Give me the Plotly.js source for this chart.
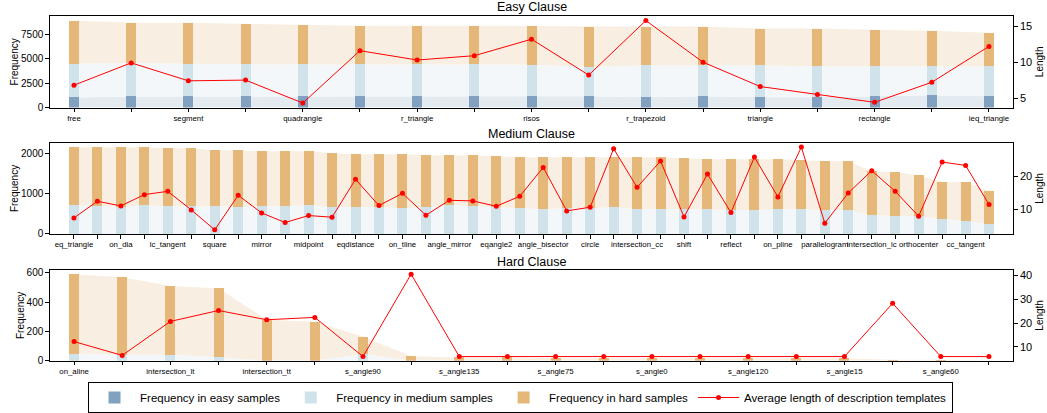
<!DOCTYPE html>
<html><head><meta charset="utf-8">
<script src="https://cdn.plot.ly/plotly-3.0.1.min.js"></script>
<style>html,body{margin:0;padding:0;background:#fff}#chart{width:1047px;height:413px}</style>
</head><body><div id="chart"></div>
<script>
// ---------- Easy Clause ----------
const easyClauseTicks = ["free","","segment","","quadrangle","","r_triangle","","risos","","r_trapezoid","","triangle","","rectangle","","ieq_triangle"];
const easyClauseEasyFreq   = [1030,1130,1130,1130,1130,1130,1130,1190,1150,1150,1050,1150,1050,1050,1150,1250,1150];
const easyClauseMediumFreq = [3440,3410,3340,3270,3270,3270,3270,3210,3230,3000,3250,3150,3250,3150,3050,2950,3050];
const easyClauseHardFreq   = [4420,4120,4190,4160,4050,3950,3950,3950,3970,4120,3970,3970,3770,3870,3760,3660,3450];
const easyClauseLength     = [6.8,9.9,7.4,7.5,4.3,11.6,10.3,10.9,13.2,8.2,15.8,10.0,6.6,5.5,4.4,7.2,12.2];

// ---------- Medium Clause ----------
const mediumClauseTicks = ["eq_triangle","","on_dia","","lc_tangent","","square","","mirror","","midpoint","","eqdistance","","on_tline","","angle_mirror","","eqangle2","","angle_bisector","","circle","","intersection_cc","","shift","","reflect","","on_pline","","parallelogram","","intersection_lc","","orthocenter","","cc_tangent",""];
const mediumClauseEasyFreq   = [0,0,0,0,0,0,0,0,0,0,0,0,0,0,0,0,0,0,0,0,0,0,0,0,0,0,0,0,0,0,0,0,0,0,0,0,0,0,0,0];
const mediumClauseMediumFreq = [717,692,675,717,692,692,692,667,692,692,717,667,667,667,642,667,717,692,667,642,617,642,642,667,617,630,617,617,592,592,617,617,592,592,467,450,442,367,325,245];
const mediumClauseHardFreq   = [1448,1473,1490,1448,1448,1448,1398,1423,1373,1373,1348,1348,1323,1323,1348,1298,1248,1273,1273,1273,1298,1273,1273,1248,1298,1285,1273,1248,1273,1273,1248,1223,1223,1223,1098,1100,1023,933,975,830];
const mediumClauseLength     = [7.4,12.4,11.0,14.4,15.4,9.8,3.8,14.2,8.9,6.0,8.1,7.6,19.0,11.1,14.8,8.2,12.7,12.5,10.9,13.9,22.6,9.5,10.6,28.2,16.6,24.5,7.7,20.6,9.0,25.7,13.7,28.7,5.8,14.9,21.6,15.4,7.9,24.2,23.2,11.4];

// ---------- Hard Clause ----------
const hardClauseTicks = ["on_aline","","intersection_lt","","intersection_tt","","s_angle90","","s_angle135","","s_angle75","","s_angle0","","s_angle120","","s_angle15","","s_angle60",""];
const hardClauseEasyFreq   = [0,0,0,0,0,0,0,0,0,0,0,0,0,0,0,0,0,0,0,0];
const hardClauseMediumFreq = [49,41,41,24,0,0,45,0,0,0,0,0,0,0,0,0,0,0,0,0];
const hardClauseHardFreq   = [542,530,469,472,280,266,120,31,22,22,16,16,16,16,16,16,16,7,7,1];
const hardClauseLength     = [12.2,6.4,20.7,25.3,21.4,22.4,5.9,40.6,5.9,5.9,5.9,5.9,5.9,5.9,5.9,5.9,5.9,28.3,5.9,5.9];

const seriesNames = ["Frequency in easy samples","Frequency in medium samples","Frequency in hard samples","Average length of description templates"];
const panelTitles = ["Easy Clause","Medium Clause","Hard Clause"];

// ---------- styles ----------
const barColors  = ["#82A0C0","#D0E2EA","#E5B778"];
const fillColors = ["#E3EAF0","#F3F7FA","#F8EFE2"];
const lineColor = "#FF0000";
const FONT = "Liberation Sans, Arial, sans-serif";

const panels = [
  {ticks:easyClauseTicks, e:easyClauseEasyFreq, m:easyClauseMediumFreq, h:easyClauseHardFreq, len:easyClauseLength,
   xid:1, yid:1, dom:[0.7378,0.9605], ymax:9335, ytv:[0,2500,5000,7500], y2r:[3.68,16.41], y2tv:[5,10,15], pad:0.42, bw:0.175, ty:0.983},
  {ticks:mediumClauseTicks, e:mediumClauseEasyFreq, m:mediumClauseMediumFreq, h:mediumClauseHardFreq, len:mediumClauseLength,
   xid:2, yid:4, dom:[0.4293,0.6513], ymax:2275, ytv:[0,1000,2000], y2r:[2.55,29.95], y2tv:[10,20], pad:1.02, bw:0.426, ty:0.672},
  {ticks:hardClauseTicks, e:hardClauseEasyFreq, m:hardClauseMediumFreq, h:hardClauseHardFreq, len:hardClauseLength,
   xid:3, yid:7, dom:[0.1203,0.3414], ymax:620, ytv:[0,200,400,600], y2r:[4.17,42.34], y2tv:[10,20,30,40], pad:0.5, bw:0.207, ty:0.362}
];

const idRef = (p, i) => i === 1 ? p : p + i;
const idName = (p, i) => i === 1 ? p + "axis" : p + "axis" + i;

const fills = [], bars = [], lines = [];
const layout = {
  width:1047, height:413, margin:{l:50,r:34,t:0,b:0},
  paper_bgcolor:"#fff", plot_bgcolor:"rgba(0,0,0,0)",
  font:{family:FONT, color:"#000", size:10},
  barmode:"stack", bargap:0,
  showlegend:true,
  legend:{orientation:"h", x:0.4886, xanchor:"center", y:0.068, yanchor:"top", traceorder:"normal",
          bordercolor:"#000", borderwidth:1, font:{size:11.5, family:FONT}, itemwidth:41, bgcolor:"#fff"},
  annotations:[]
};

panels.forEach((p, k) => {
  const n = p.ticks.length;
  const x = p.ticks.map((_, i) => i);
  const xa = idRef("x", p.xid), yMain = idRef("y", p.yid);
  const c1 = p.e.slice();
  const c2 = c1.map((v, i) => v + p.m[i]);
  const c3 = c2.map((v, i) => v + p.h[i]);
  [c1, c2, c3].forEach((c, j) => {
    fills.push({type:"scatter", mode:"lines", x:x, y:c, xaxis:xa, yaxis:yMain,
      fill: j === 0 ? "tozeroy" : "tonexty", fillcolor:fillColors[j], line:{width:0, color:fillColors[j]},
      hoverinfo:"skip", showlegend:false});
  });
  [p.e, p.m, p.h].forEach((vals, j) => {
    bars.push({type:"bar", x:x, y:vals, xaxis:xa, yaxis:idRef("y", p.yid + 1), width:p.bw,
      marker:{color:barColors[j], line:{width:0}}, name:seriesNames[j], showlegend:k === 0});
  });
  lines.push({type:"scatter", mode:"lines+markers", x:x, y:p.len, xaxis:xa, yaxis:idRef("y", p.yid + 2),
    line:{color:lineColor, width:1}, marker:{color:lineColor, size:5}, name:seriesNames[3], showlegend:k === 0});

  const common = {showline:true, linecolor:"#000", linewidth:1.2, ticks:"outside", ticklen:3.5, tickwidth:1,
    tickcolor:"#000", showgrid:false, zeroline:false, fixedrange:true};
  layout[idName("x", p.xid)] = Object.assign({}, common, {domain:[0,1], anchor:yMain, range:[-p.pad, n - 1 + p.pad],
    tickmode:"array", tickvals:x, ticktext:p.ticks, tickfont:{size:7.8}, tickangle:0, mirror:true, ticklabelstandoff:-1});
  layout[idName("y", p.yid)] = Object.assign({}, common, {domain:p.dom, anchor:xa, range:[0, p.ymax], tickmode:"array",
    tickvals:p.ytv, tickfont:{size:10}, mirror:true,
    title:{text:"Frequency", font:{size:10}, standoff:0}});
  layout[idName("y", p.yid + 1)] = {overlaying:yMain, anchor:xa, range:[0, p.ymax], visible:false,
    showgrid:false, zeroline:false, fixedrange:true};
  layout[idName("y", p.yid + 2)] = Object.assign({}, common, {overlaying:yMain, anchor:xa, side:"right", range:p.y2r,
    tickmode:"array", tickvals:p.y2tv, tickfont:{size:11},
    title:{text:"Length", font:{size:10}, standoff:4}});
  layout.annotations.push({text:panelTitles[k], xref:"paper", yref:"paper", x:0.5, y:p.ty,
    xanchor:"center", yanchor:"middle", showarrow:false, font:{size:12.5, family:FONT}});
});

Plotly.newPlot("chart", fills.concat(bars, lines), layout, {staticPlot:true, displayModeBar:false});
</script>
</body></html>
